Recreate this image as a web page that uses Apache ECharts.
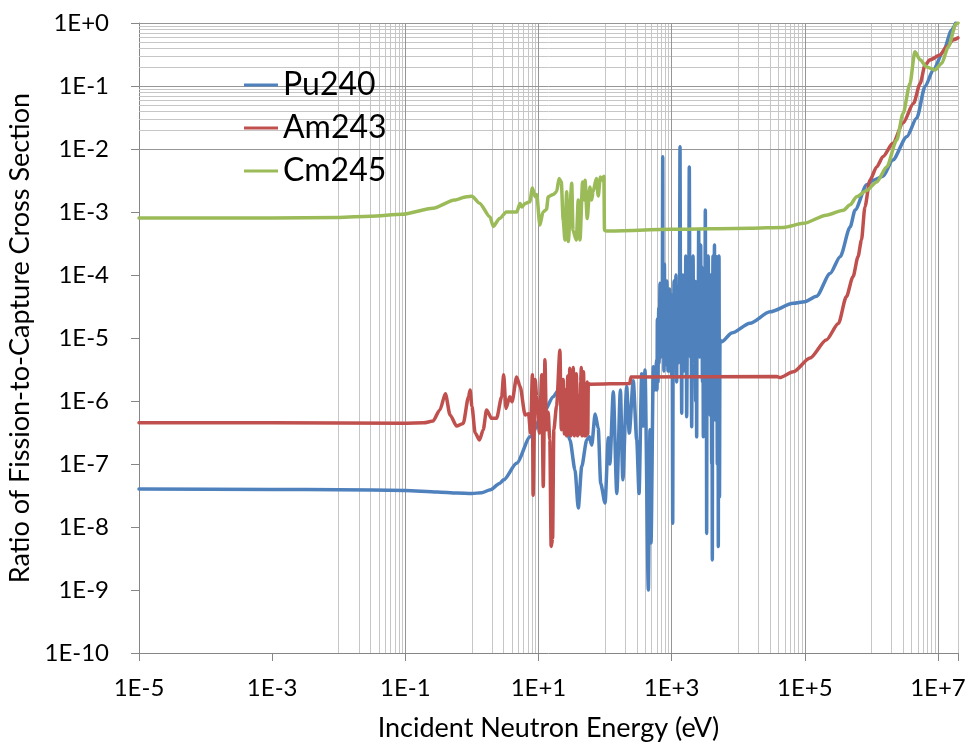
<!DOCTYPE html>
<html><head><meta charset="utf-8">
<script src="https://cdn.jsdelivr.net/npm/echarts@6/dist/echarts.min.js"></script>
<style>html,body{margin:0;padding:0;background:#fff}#c{width:966px;height:744px}</style>
</head><body><div id="c"></div>
<script>
const seriesNames = ['Pu240', 'Am243', 'Cm245'];
const seriesColors = ['#4F81BD', '#C0504D', '#9BBB59'];
const xTitle = 'Incident Neutron Energy (eV)';
const yTitle = 'Ratio of Fission-to-Capture Cross Section';

// [energy (eV), ratio]
const pu240 = [
  [1e-5,4.0e-8],[1e-3,3.95e-8],[1e-2,3.9e-8],[0.1,3.8e-8],[0.3,3.6e-8],[0.6,3.45e-8],[1.0,3.4e-8],[1.4,3.5e-8],
  [1.9,3.9e-8],[2.6,4.9e-8],[3.0,5.6e-8],[4.7,1.03e-7],[7.5,2.7e-7],[11.8,6.4e-7],[16.7,1.17e-6],[19.2,1.41e-6],
  [23.6,8.1e-7],[29.7,2.4e-7],[35.4,8.0e-8],[39.6,2.0e-8],[44.6,9.1e-8],[53,2.4e-7],[58,2.7e-7],[63,2.0e-7],
  [71,6.2e-7],[79,3.7e-7],[86,4.9e-8],[100,2.4e-8],[112,2.6e-7],[118,1.0e-7],[133,1.4e-6],[150,3.4e-8],
  [170,1.5e-6],[185,5.6e-8],[211,1.7e-6],[231,3.1e-7],[265,2.1e-6],[299,2.4e-7],[324,3.4e-8],[355,2.7e-6],
  [375,4e-7],[398,3.1e-6],[447,1.0e-9],[473,3.5e-7],[490,5.6e-9],[531,3.5e-6],[560,1.5e-6],[596,4.5e-6],
  [603,1.5e-6],[610,2.0e-5],[618,5e-6],[625,2.0e-6],[632,1.2e-5],[640,3.0e-5],[647,4e-6],[655,8e-6],[661,3e-5],
  [668,7.4e-5],[675,1.5e-5],[690,5e-6],[700,2.5e-5],[710,4e-5],[720,6e-6],[735,7.5e-3],[742,8e-6],
  [750,2e-5],[757,6e-5],[765,3e-6],[772,2e-5],[780,1.5e-4],[787,1e-5],[794,3.7e-6],[805,2.5e-5],[815,6e-5],
  [825,4e-6],[835,1.2e-5],[848,8e-5],[861,4.0e-5],[870,8e-6],[880,3e-6],[890,4e-5],[900,3.5e-5],[910,3e-6],
  [920,1.0e-5],[932,6e-5],[944,5.7e-6],[957,1.5e-5],[970,5e-5],[985,1e-5],[1000,2.5e-6],[1020,2e-5],
  [1038,1.15e-8],[1055,2e-5],[1070,4e-6],[1085,8e-5],[1100,3e-5],[1122,9.3e-6],[1140,4e-5],[1160,1e-4],
  [1175,1.5e-5],[1190,2e-6],[1205,3e-5],[1216,6.5e-5],[1250,4e-6],[1280,1.5e-5],[1310,3e-5],[1336,1.09e-2],
  [1358,6e-5],[1380,2e-5],[1398,5e-6],[1416,6.4e-7],[1440,3e-5],[1470,1e-4],[1495,1e-5],[1520,3e-6],
  [1550,6e-5],[1585,2.5e-5],[1605,5e-6],[1630,2e-4],[1655,2e-5],[1683,5.6e-7],[1720,1e-5],[1760,3e-5],
  [1800,8e-6],[1841,5.2e-3],[1880,3e-5],[1920,5e-6],[1960,4e-5],[2000,3.9e-7],[2050,3e-5],[2100,2e-4],
  [2130,2e-5],[2170,6e-6],[2210,8e-5],[2244,3.1e-5],[2270,4e-6],[2300,1e-6],[2340,5e-5],[2377,2.7e-7],
  [2410,3e-5],[2450,8e-5],[2500,1e-5],[2547,5.2e-4],[2600,2e-5],[2650,5e-6],[2690,6e-5],[2730,3e-4],
  [2780,1e-5],[2825,1.35e-4],[2860,3e-5],[2900,2e-6],[2950,4e-5],[2992,2.7e-7],[3050,2e-5],[3100,6e-5],
  [3150,5e-6],[3206,1.08e-3],[3240,3e-5],[3280,2e-6],[3320,4e-5],[3357,7.9e-9],[3400,3e-5],[3450,5e-6],
  [3500,6e-5],[3550,2e-4],[3620,1e-5],[3681,5.8e-5],[3730,5e-6],[3780,6e-7],[3840,4e-5],[3900,1e-4],
  [3950,2e-6],[4000,1e-7],[4040,2e-5],[4083,3.0e-9],[4130,4e-5],[4180,2e-4],[4240,3e-6],[4300,1e-6],
  [4350,6e-5],[4400,3e-4],[4440,2e-6],[4477,5.8e-5],[4540,5e-7],[4600,2e-5],[4680,1e-6],[4753,1.95e-4],
  [4800,4e-6],[4850,1e-7],[4900,5e-5],[4950,1.5e-4],[4990,1e-6],[5023,4.9e-9],[5080,5e-5],[5150,2e-4],
  [5230,3e-8],[5321,9.3e-6],[5650,8.7e-6],[8000,1.2e-5],[1.5e4,1.71e-5],[3.0e4,2.6e-5],
  [6.7e4,3.55e-5],[1.0e5,3.77e-5],[1.5e5,4.6e-5],[2.4e5,1.06e-4],[3.4e5,1.95e-4],[4.8e5,5.8e-4],[5.7e5,1.08e-3],
  [8.5e5,2.7e-3],[1.07e6,3.2e-3],[1.5e6,3.7e-3],[2.1e6,6.7e-3],[3.4e6,1.57e-2],[4.8e6,3.1e-2],[6.4e6,9.8e-2],
  [8.5e6,0.18],[1.2e7,0.35],[1.6e7,0.77],[1.85e7,1.0]
];

const am243 = [
  [1e-5,4.5e-7],[1e-3,4.5e-7],[0.1,4.45e-7],[0.19,4.5e-7],[0.26,4.8e-7],[0.33,7.2e-7],[0.40,1.3e-6],[0.47,6.0e-7],
  [0.59,4.0e-7],[0.74,4.4e-7],[0.89,1.17e-6],[0.94,1.5e-6],[1.0,8.3e-7],[1.12,3.1e-7],[1.3,2.4e-7],[1.48,3.5e-7],
  [1.66,7.2e-7],[1.98,5.3e-7],[2.35,5.3e-7],[2.8,1.17e-6],[3.0,2.6e-6],[3.25,7.6e-7],[3.7,1.17e-6],[4.0,9.7e-7],
  [4.7,2.4e-6],[5.3,1.7e-6],[6.3,6.0e-7],[7.1,6.3e-7],[7.6,3.1e-7],[8.1,2.6e-6],[8.3,3.2e-8],[8.9,2.2e-6],
  [9.4,1.17e-6],[10.3,3.1e-7],[11.2,2.6e-6],[11.8,4.4e-8],[12.5,4.5e-6],[13.2,3.5e-7],[14.0,6.6e-7],[14.8,2.4e-7],
  [15.5,4.9e-9],[16.3,6.6e-9],[17.0,3.5e-7],[18.7,8.3e-7],[21,6.4e-6],[22,3.5e-7],[23.5,2.2e-6],[24.5,3e-7],
  [25.5,1.5e-6],[26.5,2.8e-7],[27.5,2.5e-6],[28.5,3e-7],[29.5,3.3e-6],[30.5,2.8e-7],[31.5,1.8e-6],[32.5,3e-7],
  [33.3,3.4e-6],[34.5,2.8e-7],[35.5,1.5e-6],[36.5,3e-7],[37,2.7e-6],[38.5,2.8e-7],[40,1.2e-6],[41.5,3e-7],
  [43,2e-6],[44,3.4e-6],[45,2.8e-7],[46.5,1.5e-6],[47.5,2.9e-6],[49,2.8e-7],[50.5,1.8e-6],[52,2.8e-7],
  [54,2e-6],[55,3e-7],[56,1.9e-6],[60,1.85e-6],[235,1.9e-6],[245,2.4e-6],[3.8e4,2.45e-6],[4.2e4,2.35e-6],
  [6.7e4,2.9e-6],[1.2e5,4.8e-6],[2.1e5,9.3e-6],[3.2e5,1.7e-5],[4.2e5,4.5e-5],[5.3e5,9.4e-5],[6.3e5,1.95e-4],
  [7.1e5,3.6e-4],[8.0e5,1.2e-3],[9.5e5,3.2e-3],[1.2e6,5.2e-3],[1.5e6,7.6e-3],[2.1e6,1.23e-2],[3.0e6,2.6e-2],
  [4.3e6,5.3e-2],[5.4e6,0.11],[6.4e6,0.215],[7.6e6,0.26],[1.07e7,0.31],[1.35e7,0.42],[1.7e7,0.54],[2e7,0.58]
];

const cm245 = [
  [1e-5,8.0e-4],[1e-3,8.05e-4],[1e-2,8.2e-4],[0.03,8.6e-4],[0.09,9.2e-4],[0.26,1.15e-3],[0.55,1.55e-3],[0.83,1.75e-3],
  [1.0,1.78e-3],[1.3,1.38e-3],[1.86,8.4e-4],[2.1,5.9e-4],[2.6,7.9e-4],[3.3,1.0e-3],[4.7,1.0e-3],[5.3,1.37e-3],
  [5.6,1.2e-3],[6.3,1.37e-3],[7.4,1.45e-3],[8.1,2.4e-3],[8.9,1.75e-3],[9.4,1.9e-3],[10.5,6.2e-4],[11.7,1.0e-3],
  [13.2,1.1e-3],[14,1.75e-3],[16.7,1.9e-3],[18.7,2.1e-3],[20.4,3.4e-3],[22,3.0e-3],[23.5,7.5e-4],[25,3.6e-4],
  [26.5,2.1e-3],[28,3.4e-4],[31.6,2.85e-3],[33,5.1e-4],[37,3.6e-4],[39.6,1.55e-3],[42,3.6e-4],[46,3.0e-3],
  [49,1.55e-3],[50,3.2e-3],[54,7.9e-4],[59,2.5e-3],[63,1.55e-3],[66,2.1e-3],[74,3.4e-3],[79,1.8e-3],
  [85,3.6e-3],[91,3.2e-3],[96,3.7e-3],[98,5.1e-4],[105,5.0e-4],[1000,5.3e-4],[1.5e4,5.5e-4],[4.8e4,5.7e-4],
  [9.6e4,6.6e-4],[2.1e5,8.9e-4],[3.8e5,1.07e-3],[4.8e5,1.3e-3],[6.0e5,1.75e-3],[8.5e5,2.2e-3],[1.2e6,3.0e-3],
  [1.7e6,5.2e-3],[2.4e6,1.39e-2],[3.0e6,3.7e-2],[3.8e6,0.11],[4.5e6,0.35],[5.4e6,0.26],[6.8e6,0.20],
  [9.0e6,0.18],[1.14e7,0.23],[1.43e7,0.42],[1.86e7,0.96],[2e7,1.0]
];

const xMin = 1e-5, xMax = 2e7, yMin = 1e-10, yMax = 1;
const xMajorGrid = [1e-5, 1e-3, 1e-1, 1e1, 1e3, 1e5, 1e7];
const xMinorDecades = [1e-4, 1e-2, 1, 1e2, 1e4, 1e6];
const xEdge = [2e7];
const yMajorGrid = [1e-10,1e-9,1e-8,1e-7,1e-6,1e-5,1e-4,1e-3,1e-2,1e-1,1];
const yMinorDecades = [1e-10,1e-9,1e-8,1e-7,1e-6,1e-5,1e-4,1e-3,1e-2,1e-1];
const multipliers = [1,2,3,4,5,6,7,8,9];

const xMinor = [];
xMinorDecades.forEach(d => multipliers.forEach(m => xMinor.push(m * d)));
xEdge.forEach(v => xMinor.push(v));
const yMinor = [];
yMinorDecades.forEach(d => multipliers.slice(1).forEach(m => yMinor.push(m * d)));

function expLabel(v) {
  const l = Math.log10(v);
  const e = Math.round(l);
  if (Math.abs(l - e) > 1e-6) return '';
  return '1E' + (e >= 0 ? '+' : '') + e;
}

const FONT = 'Lato';
const chart = echarts.init(document.getElementById('c'), null, {renderer: 'canvas'});
const gridLineSeries = (name, xs, ys, color, z) => ({
  type: 'line', name: name, data: [], silent: true, z: z,
  markLine: {
    silent: true, z: z, symbol: ['none', 'none'], label: {show: false}, animation: false,
    emphasis: {disabled: true},
    lineStyle: {color: color, width: 1, type: 'solid'},
    data: xs.map(v => ({xAxis: v})).concat(ys.map(v => ({yAxis: v})))
  }
});
const dataSeries = (i, data) => ({
  name: seriesNames[i], type: 'line', data: data, showSymbol: false, symbol: 'none', z: 10 + i,
  smooth: 0.25, smoothMonotone: 'x',
  lineStyle: {color: seriesColors[i], width: 3.5, cap: 'round', join: 'round'},
  itemStyle: {color: seriesColors[i]}
});

chart.setOption({
  animation: false,
  backgroundColor: '#ffffff',
  textStyle: {fontFamily: FONT},
  grid: {left: 139, right: 8, top: 23, bottom: 91, containLabel: false, outerBoundsMode: 'none'},
  legend: {
    data: seriesNames, orient: 'vertical', left: 239, top: 64, itemGap: 11, z: 20,
    itemWidth: 34, itemHeight: 3, icon: 'rect',
    textStyle: {fontFamily: FONT, fontSize: 32, lineHeight: 32, color: '#000'}
  },
  xAxis: {
    type: 'log', logBase: 10, min: xMin, max: xMax, interval: 2,
    name: xTitle, nameLocation: 'middle', nameGap: 62,
    nameTextStyle: {fontFamily: FONT, fontSize: 27, color: '#000'},
    axisLine: {show: true, lineStyle: {color: '#868686', width: 1}},
    axisTick: {show: true, length: 8, lineStyle: {color: '#868686'}},
    axisLabel: {fontFamily: FONT, fontSize: 24, color: '#000', margin: 23, formatter: expLabel},
    splitLine: {show: false}, minorTick: {show: false}, minorSplitLine: {show: false}
  },
  yAxis: {
    type: 'log', logBase: 10, min: yMin, max: yMax, interval: 1,
    name: yTitle, nameLocation: 'middle', nameGap: 99, nameRotate: 90,
    nameTextStyle: {fontFamily: FONT, fontSize: 27, color: '#000'},
    axisLine: {show: true, lineStyle: {color: '#868686', width: 1}},
    axisTick: {show: true, length: 8, lineStyle: {color: '#868686'}},
    axisLabel: {fontFamily: FONT, fontSize: 24, color: '#000', margin: 30, formatter: expLabel},
    splitLine: {show: false}, minorTick: {show: false}, minorSplitLine: {show: false}
  },
  series: [
    gridLineSeries('minorGrid', xMinor, yMinor, '#c6c6c6', 1),
    gridLineSeries('majorGrid', xMajorGrid, yMajorGrid, '#969696', 2),
    dataSeries(0, pu240),
    dataSeries(1, am243),
    dataSeries(2, cm245)
  ]
});
</script></body></html>
